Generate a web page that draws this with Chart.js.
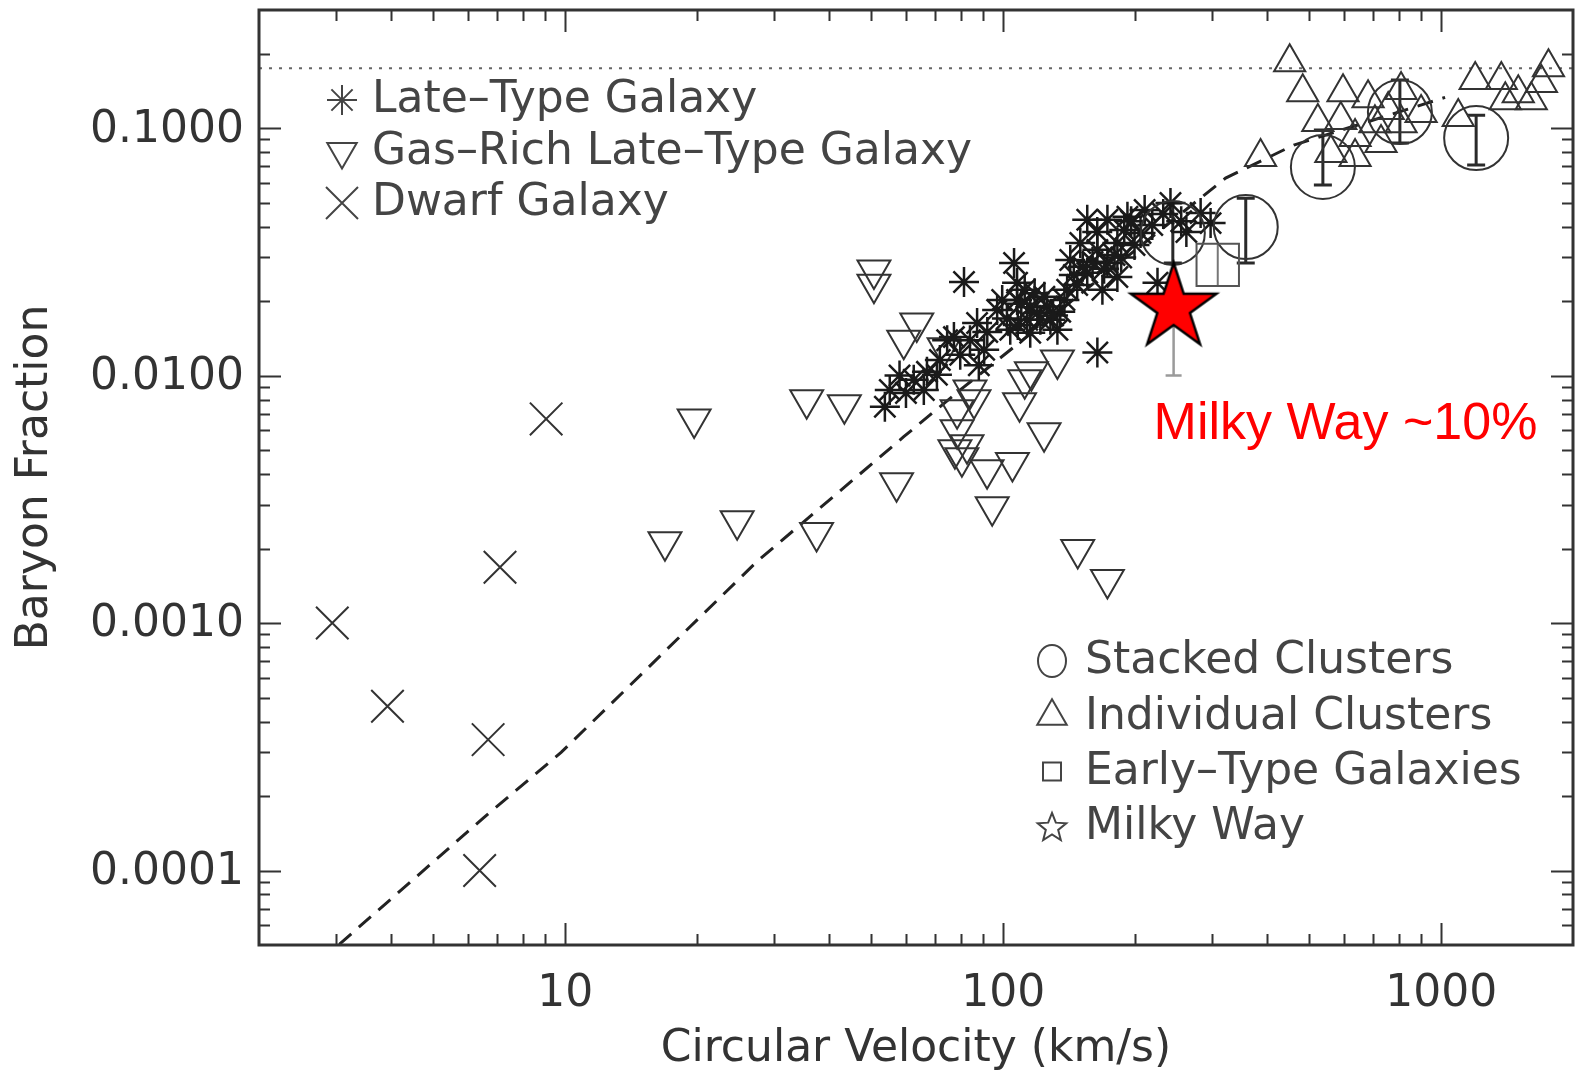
<!DOCTYPE html>
<html><head><meta charset="utf-8">
<script src="https://cdn.jsdelivr.net/npm/chart.js@4.4.1/dist/chart.umd.min.js"></script>
<style>html,body{margin:0;padding:0;background:#fff;}#wrap{width:1576px;height:1077px;position:relative;}</style>
</head><body><div id="wrap"><canvas id="c"></canvas></div>
<script>
// ---- tick labels ----
const xTicks = [10, 100, 1000];
const yTicks = [0.0001, 0.001, 0.01, 0.1];

// ---- Dwarf galaxies (X) ----
const dwarfV = [2.94, 3.93, 6.67, 6.38, 7.10, 9.05];
const dwarfF = [0.00100, 0.000461, 0.000338, 0.000100, 0.00168, 0.00668];

// ---- Gas-rich late-type galaxies (down triangles) ----
const gasV = [19.7, 16.9, 24.7, 37.5, 35.6, 43.4, 57.1, 50.7, 50.7, 63.5, 59.3, 73.3, 78.5, 78.5, 77.6,
              80.5, 82.7, 84.0, 85.8, 91.9, 105, 94.4, 112, 116, 109, 124, 133, 148, 173];
const gasF = [0.00668, 0.00213, 0.00259, 0.00232, 0.00798, 0.00762, 0.00369, 0.0267, 0.0234, 0.0163,
              0.0139, 0.01294, 0.00728, 0.00604, 0.00501, 0.00465, 0.00525, 0.00875, 0.00798, 0.00416,
              0.00445, 0.00295, 0.00962, 0.01035, 0.00776, 0.00587, 0.01156, 0.00198, 0.00150];

// ---- Late-type galaxies (asterisks) ----
const lateV = [53.7, 55.1, 62.5, 65.9, 71.7, 77.2, 84.0, 87.2, 81.4, 90.5, 96.9, 103.8, 105.9, 107.6, 107.6,
               115.3, 115.3, 124.2, 133.0, 138.0, 142.3, 155.6, 155.6, 164.1, 164.1, 173.0, 173.0, 182.3,
               182.3, 192.2, 205.9, 210.4, 225.1, 241.0, 282.4, 297.6, 119.7, 128.2, 147.6, 168.5, 150,
               70.6, 99.5, 112, 121.6, 135, 113.5, 160, 179.6, 199.5, 164, 189, 219, 140, 79.8, 74.5, 67,
               110, 118, 126, 102, 108, 130, 145, 152, 170, 186, 196, 232, 255, 262, 92, 88, 60, 58];
const lateF = [0.00748, 0.00875, 0.00962, 0.00875, 0.01156, 0.0143, 0.0139, 0.0163, 0.0239, 0.0127, 0.0184,
               0.0153, 0.0285, 0.0202, 0.0237, 0.0189, 0.0149, 0.0208, 0.0153, 0.0202, 0.0293, 0.0260,
               0.0426, 0.0124, 0.0322, 0.0285, 0.0426, 0.0250, 0.0343, 0.0438, 0.0377, 0.0467, 0.0237,
               0.0498, 0.0454, 0.0413, 0.0179, 0.0168, 0.0232, 0.0222, 0.0343, 0.01007, 0.0202, 0.0222,
               0.0168, 0.0181, 0.0168, 0.0288, 0.0307, 0.0337, 0.0380, 0.0387, 0.0406, 0.0222, 0.01213,
               0.0139, 0.01035,
               0.0195, 0.0215, 0.0190, 0.0170, 0.0160, 0.0175, 0.0255, 0.0275, 0.0270, 0.0300, 0.0420,
               0.0450, 0.0420, 0.0380, 0.0150, 0.0110, 0.0085, 0.0100];

// ---- Individual clusters (up triangles) ----
const indV = [451, 483, 523, 387, 597, 590, 636, 681, 706, 729, 810, 810, 900, 1094, 1196, 1372, 1401,
              1606, 1758, 1694, 560, 636, 757, 1500];
const indF = [0.1845, 0.1397, 0.1057, 0.0764, 0.1397, 0.1077, 0.0764, 0.1321, 0.1047, 0.0870, 0.1424,
              0.1047, 0.1151, 0.1108, 0.1563, 0.1563, 0.1297, 0.1297, 0.1762, 0.1520, 0.0793, 0.0920,
              0.1183, 0.1384];

// ---- Stacked clusters (circles, with error bars) ----
const stackV  = [244, 358, 537, 805, 1202];
const stackF  = [0.0377, 0.0398, 0.0696, 0.116, 0.0911];
const stackLo = [0.0285, 0.0285, 0.0589, 0.0870, 0.0710];
const stackHi = [0.0498, 0.0521, 0.0982, 0.1563, 0.1127];

// ---- Early-type galaxies (square) ----
const earlyV  = [309];
const earlyF  = [0.0280];
const earlyLo = [0.0228];
const earlyHi = [0.0343];

// ---- Milky Way (red star) ----
const mwV  = [245];
const mwF  = [0.0188];
const mwLo = [0.0100];
const mwHi = [0.0188];

// ---- model curve (dashed) and cosmic baryon fraction (dotted) ----
const modelV = [3.05, 6.53, 9.79, 27.4, 59.3, 81.4, 322, 461, 1021];
const modelF = [5.03e-5, 1.64e-4, 3.0e-4, 1.77e-3, 5.66e-3, 9.0e-3, 0.0628, 0.0854, 0.133];
const cosmicV = [2, 2000];
const cosmicF = [0.1746, 0.1746];

const legendTop = ['Late–Type Galaxy', 'Gas–Rich Late–Type Galaxy', 'Dwarf Galaxy'];
const legendBottom = ['Stacked Clusters', 'Individual Clusters', 'Early–Type Galaxies', 'Milky Way'];
const mwNote = 'Milky Way ~10%';

const pts = (xs, ys) => xs.map((v, i) => ({x: v, y: ys[i]}));
const INK = '#333';
const FONT = 'DejaVu Sans';

function starPath(g, cx, cy, R, r) {
  g.beginPath();
  for (let k = 0; k < 10; k++) {
    const rad = (k % 2 === 0) ? R : r;
    const a = -Math.PI / 2 + k * Math.PI / 5;
    const px = cx + rad * Math.cos(a), py = cy + rad * Math.sin(a);
    if (k === 0) g.moveTo(px, py); else g.lineTo(px, py);
  }
  g.closePath();
}
function makeStar(R) {
  const s = Math.ceil(2 * R + 8);
  const c = document.createElement('canvas');
  c.width = s; c.height = s;
  const g = c.getContext('2d');
  starPath(g, s / 2, s / 2, R, R * 0.382);
  g.fillStyle = '#ff0000'; g.fill();
  g.lineWidth = 2.5; g.strokeStyle = '#000'; g.lineJoin = 'miter'; g.stroke();
  return c;
}
const starImg = makeStar(45);

function errBars(ctx, xs, ys, vs, lo, hi, color, lw, cap) {
  ctx.strokeStyle = color; ctx.lineWidth = lw;
  for (let i = 0; i < vs.length; i++) {
    const px = xs.getPixelForValue(vs[i]);
    const p1 = ys.getPixelForValue(lo[i]);
    const p2 = ys.getPixelForValue(hi[i]);
    ctx.beginPath();
    ctx.moveTo(px, p1); ctx.lineTo(px, p2);
    if (cap > 0) {
      ctx.moveTo(px - cap, p1); ctx.lineTo(px + cap, p1);
      ctx.moveTo(px - cap, p2); ctx.lineTo(px + cap, p2);
    }
    ctx.stroke();
  }
}

const errPlugin = {
  id: 'errbars',
  beforeDatasetsDraw(chart) {
    const {ctx, scales: {x, y}} = chart;
    ctx.save();
    errBars(ctx, x, y, mwV, mwLo, mwHi, '#9a9a9a', 2.5, 8);
    errBars(ctx, x, y, stackV, stackLo, stackHi, '#2a2a2a', 3, 9);
    errBars(ctx, x, y, earlyV, earlyLo, earlyHi, '#777', 2, 0);
    ctx.restore();
  }
};

const framePlugin = {
  id: 'frame',
  afterDatasetsDraw(chart) {
    const {ctx, chartArea: a, scales: {x, y}} = chart;
    ctx.save();
    ctx.strokeStyle = INK; ctx.lineWidth = 2;
    ctx.beginPath();
    for (let d = 1; d <= 1000; d *= 10) {
      for (let m = 1; m <= 9; m++) {
        const v = m * d;
        if (v <= x.min || v >= x.max) continue;
        const px = Math.round(x.getPixelForValue(v)) + 0.5;
        const len = m === 1 ? 22 : 11;
        ctx.moveTo(px, a.bottom); ctx.lineTo(px, a.bottom - len);
        ctx.moveTo(px, a.top); ctx.lineTo(px, a.top + len);
      }
    }
    for (let d = 1e-5; d <= 0.2; d *= 10) {
      for (let m = 1; m <= 9; m++) {
        const v = m * d;
        if (v <= y.min * 1.0001 || v >= y.max * 0.9999) continue;
        const py = Math.round(y.getPixelForValue(v)) + 0.5;
        const major = yTicks.some(t => Math.abs(t - v) / t < 1e-6);
        const len = major ? 22 : 11;
        ctx.moveTo(a.left, py); ctx.lineTo(a.left + len, py);
        ctx.moveTo(a.right, py); ctx.lineTo(a.right - len, py);
      }
    }
    ctx.stroke();
    ctx.lineWidth = 3;
    ctx.strokeRect(a.left, a.top, a.right - a.left, a.bottom - a.top);
    // tick labels
    ctx.fillStyle = INK;
    ctx.font = '44px "' + FONT + '"';
    ctx.textBaseline = 'middle';
    ctx.textAlign = 'right';
    yTicks.forEach(v => ctx.fillText(v.toFixed(4), a.left - 15, y.getPixelForValue(v) + 2));
    ctx.textAlign = 'center';
    xTicks.forEach(v => ctx.fillText(String(v), x.getPixelForValue(v), a.bottom + 50));
    ctx.restore();
  }
};

function sym(ctx, kind, cx, cy) {
  ctx.beginPath();
  if (kind === 'ast') {
    const r = 15;
    for (let k = 0; k < 4; k++) {
      const t = k * Math.PI / 4;
      ctx.moveTo(cx - r * Math.cos(t), cy - r * Math.sin(t));
      ctx.lineTo(cx + r * Math.cos(t), cy + r * Math.sin(t));
    }
  } else if (kind === 'down') {
    const r = 17;
    ctx.moveTo(cx - r * 0.866, cy - r * 0.5); ctx.lineTo(cx + r * 0.866, cy - r * 0.5); ctx.lineTo(cx, cy + r); ctx.closePath();
  } else if (kind === 'up') {
    const r = 17;
    ctx.moveTo(cx - r * 0.866, cy + r * 0.5); ctx.lineTo(cx + r * 0.866, cy + r * 0.5); ctx.lineTo(cx, cy - r); ctx.closePath();
  } else if (kind === 'x') {
    const r = 16;
    ctx.moveTo(cx - r, cy - r); ctx.lineTo(cx + r, cy + r);
    ctx.moveTo(cx + r, cy - r); ctx.lineTo(cx - r, cy + r);
  } else if (kind === 'circ') {
    ctx.ellipse(cx, cy, 14, 16, 0, 0, Math.PI * 2);
  } else if (kind === 'sq') {
    ctx.rect(cx - 9, cy - 9, 18, 18);
  } else if (kind === 'star') {
    starPath(ctx, cx, cy + 1, 15, 6.5);
  }
  ctx.stroke();
}

const legendPlugin = {
  id: 'legendtext',
  afterDraw(chart) {
    const {ctx, chartArea: a, scales: {x, y}} = chart;
    ctx.save();
    ctx.strokeStyle = '#444'; ctx.lineWidth = 2;
    ctx.fillStyle = '#444';
    ctx.font = '44px "' + FONT + '"';
    ctx.textBaseline = 'middle';
    ctx.textAlign = 'left';
    const k1 = ['ast', 'down', 'x'];
    legendTop.forEach((t, i) => {
      const yy = a.top + 90 + i * 51.5;
      sym(ctx, k1[i], a.left + 83, yy);
      ctx.fillText(t, a.left + 113, yy + 1);
    });
    const k2 = ['circ', 'up', 'sq', 'star'];
    legendBottom.forEach((t, i) => {
      const yy = a.top + 651 + i * 55.3;
      sym(ctx, k2[i], a.left + 793, yy);
      ctx.fillText(t, a.left + 826, yy + 1);
    });
    // Milky Way annotation anchored to the MW point
    const px = x.getPixelForValue(mwV[0]);
    const py = y.getPixelForValue(mwF[0]);
    ctx.fillStyle = '#ff0000';
    ctx.font = '52px "Liberation Sans", Arial, sans-serif';
    ctx.textBaseline = 'alphabetic';
    ctx.fillText(mwNote, px - 20, py + 131);
    ctx.restore();
  }
};

const mk = {backgroundColor: 'rgba(0,0,0,0)', borderColor: INK, borderWidth: 2};

new Chart(document.getElementById('c'), {
  type: 'scatter',
  data: {
    datasets: [
      {label: 'Milky Way', data: pts(mwV, mwF), pointStyle: starImg, pointRadius: 10, order: 0},
      Object.assign({label: 'Early-Type Galaxies', data: pts(earlyV, earlyF), pointStyle: 'rect', pointRadius: 30, order: 1}, mk, {borderColor: '#555'}),
      Object.assign({label: 'Stacked Clusters', data: pts(stackV, stackF), pointStyle: 'circle', pointRadius: 32, order: 2}, mk),
      Object.assign({label: 'Individual Clusters', data: pts(indV, indF), pointStyle: 'triangle', pointRadius: 18, order: 3}, mk),
      Object.assign({label: 'Late-Type Galaxy', data: pts(lateV, lateF), pointStyle: 'star', pointRadius: 15, order: 4}, mk, {borderColor: '#1a1a1a', borderWidth: 2.5}),
      Object.assign({label: 'Gas-Rich Late-Type Galaxy', data: pts(gasV, gasF), pointStyle: 'triangle', rotation: 180, pointRadius: 19, order: 5}, mk),
      Object.assign({label: 'Dwarf Galaxy', data: pts(dwarfV, dwarfF), pointStyle: 'crossRot', pointRadius: 23, order: 6}, mk),
      {type: 'line', label: 'model', data: pts(modelV, modelF), borderColor: '#222', borderWidth: 3,
       borderDash: [16, 10], pointRadius: 0, fill: false, tension: 0, order: 7},
      {type: 'line', label: 'cosmic', data: pts(cosmicV, cosmicF), borderColor: '#666', borderWidth: 2,
       borderDash: [3, 7], pointRadius: 0, fill: false, order: 8}
    ]
  },
  options: {
    responsive: true, maintainAspectRatio: false, animation: false, events: [],
    layout: {autoPadding: false, padding: {left: 0, right: 3, top: 10, bottom: 0}},
    plugins: {legend: {display: false}, tooltip: {enabled: false}},
    scales: {
      x: {
        type: 'logarithmic', min: 2, max: 2000, position: 'bottom',
        grid: {display: false, drawTicks: false}, border: {display: false},
        afterBuildTicks: ax => { ax.ticks = xTicks.map(v => ({value: v})); },
        afterFit: s => { s.height = 132; s.paddingLeft = 0; s.paddingRight = 0; },
        ticks: {display: false},
        title: {display: true, text: 'Circular Velocity (km/s)', font: {family: FONT, size: 44}, color: INK,
                padding: {top: 0, bottom: 1}}
      },
      y: {
        type: 'logarithmic', min: 5e-5, max: 0.3,
        grid: {display: false, drawTicks: false}, border: {display: false},
        afterBuildTicks: ax => { ax.ticks = yTicks.map(v => ({value: v})); },
        afterFit: s => { s.width = 259; s.paddingTop = 0; s.paddingBottom = 0; },
        ticks: {display: false},
        title: {display: true, text: 'Baryon Fraction', font: {family: FONT, size: 44}, color: INK,
                padding: {top: 9, bottom: 0}}
      }
    }
  },
  plugins: [errPlugin, framePlugin, legendPlugin]
});
</script>
</body></html>
